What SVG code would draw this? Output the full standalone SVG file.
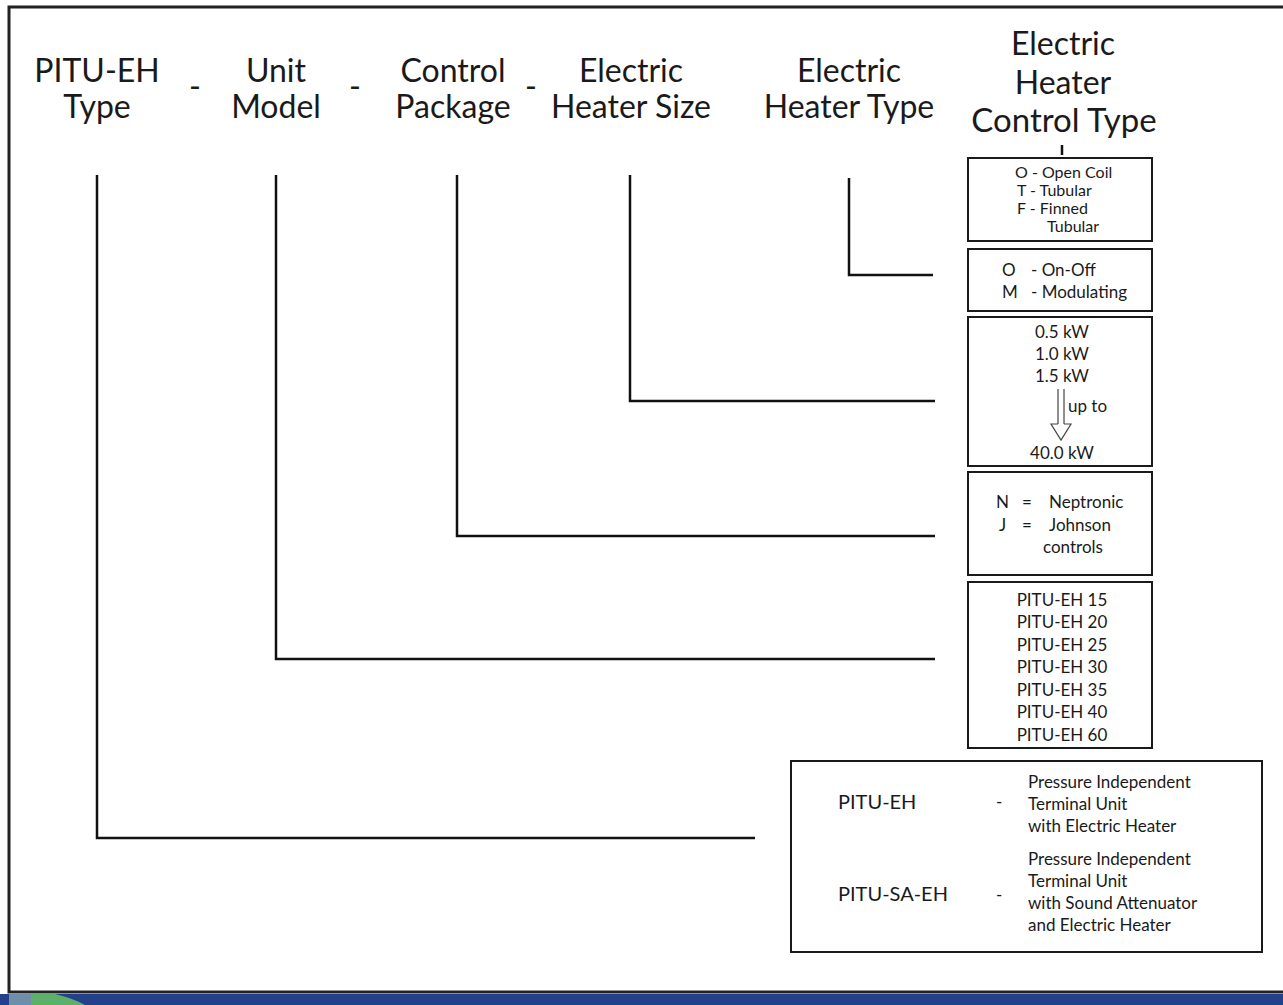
<svg xmlns="http://www.w3.org/2000/svg" width="1283" height="1005" viewBox="0 0 1283 1005">
<style>
.h{font-family:Lato,"Open Sans","Liberation Sans",sans-serif;font-size:32px;fill:#1a1a1a;text-anchor:middle}
.s{font-family:Lato,"Open Sans","Liberation Sans",sans-serif;font-size:17px;fill:#1a1a1a}
.t{font-size:16px}
.b{font-size:20px}
.c{text-anchor:middle}
.box{fill:#fff;stroke:#1a1a1a;stroke-width:2}
.ln{fill:none;stroke:#111;stroke-width:2.5}
</style>
<rect x="0" y="0" width="1283" height="1005" fill="#fff"/>
<path d="M1283,7 H9 V992 H1283" fill="none" stroke="#222" stroke-width="3"/>
<g id="footer">
<rect x="0" y="994" width="1283" height="11" fill="#24408a"/>
<rect x="9" y="994" width="22" height="11" fill="#6f8fa8"/>
<path d="M31,1005 L31,994 L55,994 Q75,999 85,1005 Z" fill="#5cb06a"/>
</g>
<g id="headers">
<g id="h-type"><text class="h" x="97" y="82">PITU-EH</text><text class="h" x="97" y="118">Type</text></g>
<text class="h" x="195" y="98">-</text>
<g id="h-model"><text class="h" x="276" y="82">Unit</text><text class="h" x="276" y="118">Model</text></g>
<text class="h" x="355" y="98">-</text>
<g id="h-control"><text class="h" x="453" y="82">Control</text><text class="h" x="453" y="118">Package</text></g>
<text class="h" x="531" y="98">-</text>
<g id="h-size"><text class="h" x="631" y="82">Electric</text><text class="h" x="631" y="118">Heater Size</text></g>
<g id="h-htype"><text class="h" x="849" y="82">Electric</text><text class="h" x="849" y="118">Heater Type</text></g>
<g id="h-ctype"><text class="h" x="1063" y="55">Electric</text><text class="h" x="1063" y="94">Heater</text><text class="h" x="1064" y="132" style="font-size:33px">Control Type</text></g>
</g>
<g id="connectors">
<path class="ln" d="M97,175 V838 H755"/>
<path class="ln" d="M276,175 V659 H935"/>
<path class="ln" d="M457,175 V536 H935"/>
<path class="ln" d="M630,175 V401 H935"/>
<path class="ln" d="M849,178 V275 H933"/>
<path class="ln" d="M1062,145 V155"/>
</g>
<g id="box-heater-type">
<rect class="box" x="968" y="158" width="184" height="83"/>
<text class="s t" x="1015" y="178">O - Open Coil</text>
<text class="s t" x="1017" y="196">T - Tubular</text>
<text class="s t" x="1017" y="214">F - Finned</text>
<text class="s t" x="1047" y="232">Tubular</text>
</g>
<g id="box-control-type">
<rect class="box" x="968" y="249" width="184" height="62"/>
<text class="s" x="1002" y="276">O</text><text class="s" x="1031" y="276">- On-Off</text>
<text class="s" x="1002" y="298">M</text><text class="s" x="1031" y="298">- Modulating</text>
</g>
<g id="box-size">
<rect class="box" x="968" y="317" width="184" height="149"/>
<text class="s c" x="1062" y="338">0.5 kW</text>
<text class="s c" x="1062" y="360">1.0 kW</text>
<text class="s c" x="1062" y="382">1.5 kW</text>
<text class="s" x="1068" y="412">up to</text>
<path d="M1058,389 V424 M1064,389 V424 M1058,424 H1051 L1061,440 L1071,424 H1064" fill="none" stroke="#444" stroke-width="1.2"/>
<text class="s c" x="1062" y="459">40.0 kW</text>
</g>
<g id="box-package">
<rect class="box" x="968" y="472" width="184" height="103"/>
<text class="s" x="996" y="508">N</text><text class="s" x="1022" y="508">=</text><text class="s" x="1049" y="508">Neptronic</text>
<text class="s" x="999" y="531">J</text><text class="s" x="1022" y="531">=</text><text class="s" x="1049" y="531">Johnson</text>
<text class="s" x="1043" y="553">controls</text>
</g>
<g id="box-model">
<rect class="box" x="968" y="582" width="184" height="166"/>
<text class="s c" x="1062" y="606">PITU-EH 15</text>
<text class="s c" x="1062" y="628">PITU-EH 20</text>
<text class="s c" x="1062" y="651">PITU-EH 25</text>
<text class="s c" x="1062" y="673">PITU-EH 30</text>
<text class="s c" x="1062" y="696">PITU-EH 35</text>
<text class="s c" x="1062" y="718">PITU-EH 40</text>
<text class="s c" x="1062" y="741">PITU-EH 60</text>
</g>
<g id="box-type">
<rect class="box" x="791" y="761" width="471" height="191"/>
<text class="s b" x="838" y="809">PITU-EH</text>
<text class="s" x="996" y="808">-</text>
<text class="s" x="1028" y="788">Pressure Independent</text>
<text class="s" x="1028" y="810">Terminal Unit</text>
<text class="s" x="1028" y="832">with Electric Heater</text>
<text class="s b" x="838" y="901">PITU-SA-EH</text>
<text class="s" x="996" y="901">-</text>
<text class="s" x="1028" y="865">Pressure Independent</text>
<text class="s" x="1028" y="887">Terminal Unit</text>
<text class="s" x="1028" y="909">with Sound Attenuator</text>
<text class="s" x="1028" y="931">and Electric Heater</text>
</g>
</svg>
